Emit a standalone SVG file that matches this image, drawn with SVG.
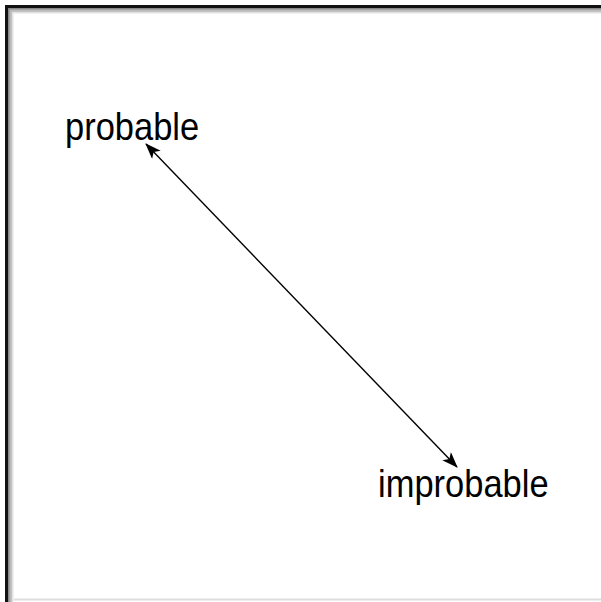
<svg xmlns="http://www.w3.org/2000/svg" width="601" height="602" viewBox="0 0 601 602">
<style>
.lbl{font-family:"Liberation Sans",Arial,sans-serif;font-size:34.5px;fill:#000}
.conn{stroke:#000;stroke-width:1.4;fill:none}
</style>
<defs>
<marker id="ah" viewBox="0 0 16 12" refX="15" refY="6" markerWidth="16" markerHeight="12" markerUnits="userSpaceOnUse" orient="auto-start-reverse">
<path d="M0,0 L16,6 L0,12 L4,6 Z" fill="#000"/>
</marker>
</defs>
<rect width="601" height="602" fill="#fff"/>
<g id="frame">
<line x1="8.5" y1="5" x2="8.5" y2="602" stroke="#888" stroke-width="7"/>
<line x1="5" y1="8.5" x2="601" y2="8.5" stroke="#888" stroke-width="7"/>
<line x1="10.5" y1="10" x2="10.5" y2="602" stroke="#bbb" stroke-width="2"/>
<line x1="10" y1="10.5" x2="601" y2="10.5" stroke="#bbb" stroke-width="2"/>
<line x1="12.5" y1="12" x2="12.5" y2="602" stroke="#e2e2e2" stroke-width="2"/>
<line x1="12" y1="12.5" x2="601" y2="12.5" stroke="#e2e2e2" stroke-width="2"/>
<line x1="6.5" y1="5" x2="6.5" y2="602" stroke="#111" stroke-width="3"/>
<line x1="5" y1="6.5" x2="601" y2="6.5" stroke="#111" stroke-width="3"/>
<line x1="14" y1="599.5" x2="601" y2="599.5" stroke="#ddd" stroke-width="2"/>
</g>
<g id="connectors">
<line class="conn" x1="146" y1="144" x2="457" y2="467" marker-start="url(#ah)" marker-end="url(#ah)"/>
</g>
<g id="probable">
<text class="lbl" transform="translate(65,140) scale(1,1.15)">probable</text>
</g>
<g id="improbable">
<text class="lbl" transform="translate(378,497) scale(1,1.15)">improbable</text>
</g>
</svg>
